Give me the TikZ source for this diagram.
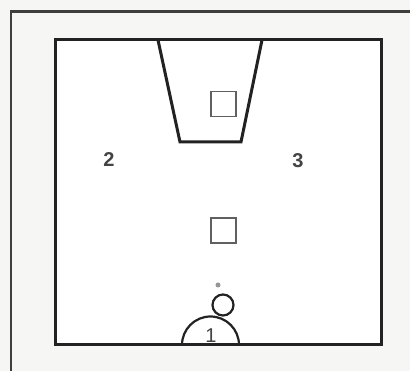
\documentclass[tikz,border=0pt]{standalone}
\usepackage{fontspec}
\setsansfont{Liberation Sans}
\definecolor{courtInk}{RGB}{34,34,34}
\definecolor{courtFrame}{RGB}{62,62,62}
\definecolor{courtPost}{RGB}{96,96,96}
\definecolor{courtPaper}{RGB}{246,246,245}
\definecolor{courtDot}{RGB}{150,150,150}
\tikzset{
  cline/.style={draw=courtInk, line width=3.0pt, line join=miter},
  cfine/.style={draw=courtInk, line width=2.2pt},
  post/.style={draw=courtPost, line width=1.6pt, minimum size=25pt,
    inner sep=0pt, fill=white},
  zone/.style={font=\sffamily\fontsize{20}{22}\selectfont,
    text=courtInk!85, inner sep=0pt}
}
\begin{document}
\begin{tikzpicture}[x=1pt, y=-1pt]
\path[use as bounding box, fill=courtPaper] (0,0) rectangle (410,371);

% outer frame, runs off the page
\draw[draw=courtFrame, line width=2.4pt] (11,380) -- (11,11.5) -- (420,11.5);

% court
\fill[white] (55,40) rectangle (381,345);
\draw[cline] (55,40) rectangle (381,345);
\draw[cline] (158,40) -- (180,142) -- (241,142) -- (262,40);

% posts
\node[post] (postTop) at (223.5,104) {};
\node[post] (postMid) at (223.5,230.5) {};

% player and base
\node[circle, cfine, fill=white, minimum size=21pt, inner sep=0pt]
  (head) at (223,305) {};
\node[circle, fill=courtDot, minimum size=5pt, inner sep=0pt]
  (ball) at (218,285) {};
\draw[cfine] (182,345) arc (180:360:28.5);

% zones
\node[zone] (zoneA) at (211,336) {1};
\node[zone, font=\sffamily\bfseries\fontsize{20}{22}\selectfont]
  (zoneB) at (109,160) {2};
\node[zone, font=\sffamily\bfseries\fontsize{20}{22}\selectfont]
  (zoneC) at (298,161) {3};
\end{tikzpicture}
\end{document}
